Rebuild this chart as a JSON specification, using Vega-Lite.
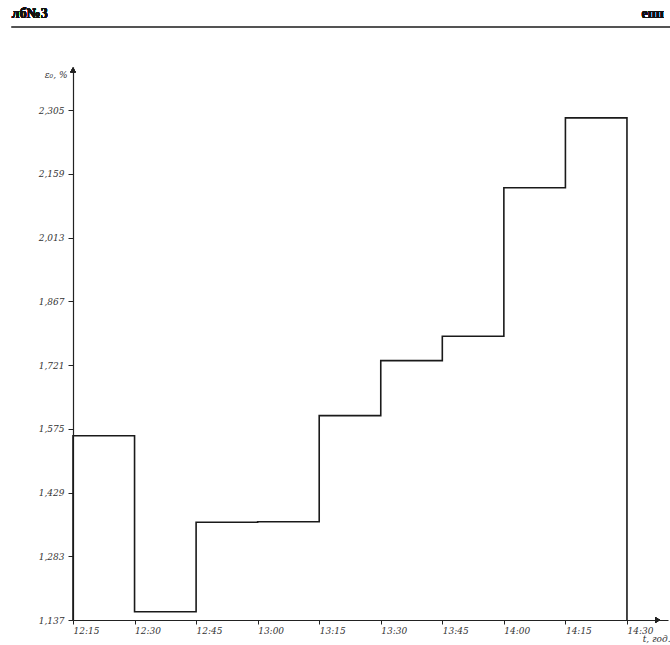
{
  "$schema": "https://vega.github.io/schema/vega-lite/v6.json",
  "width": 595,
  "height": 553,
  "autosize": {"type": "none"},
  "padding": {"left": 73, "top": 67, "right": 2, "bottom": 25},
  "background": "white",
  "config": {
    "view": {"stroke": null},
    "axis": {
      "grid": false,
      "domainColor": "#222",
      "domainWidth": 1.2,
      "tickColor": "#222",
      "labelFont": "DejaVu Serif",
      "labelFontStyle": "italic",
      "labelFontSize": 9,
      "labelColor": "#333",
      "titleFont": "DejaVu Serif",
      "titleFontStyle": "italic",
      "titleFontWeight": "normal",
      "titleFontSize": 9,
      "titleColor": "#333"
    }
  },
  "data": {
    "values": [
      {"t": "12:15", "min": 735, "v": 1.137, "n": 0},
      {"t": "12:15", "min": 735, "v": 1.559, "n": 1},
      {"t": "12:30", "min": 750, "v": 1.156, "n": 2},
      {"t": "12:45", "min": 765, "v": 1.361, "n": 3},
      {"t": "13:00", "min": 780, "v": 1.362, "n": 4},
      {"t": "13:15", "min": 795, "v": 1.605, "n": 5},
      {"t": "13:30", "min": 810, "v": 1.731, "n": 6},
      {"t": "13:45", "min": 825, "v": 1.787, "n": 7},
      {"t": "14:00", "min": 840, "v": 2.127, "n": 8},
      {"t": "14:15", "min": 855, "v": 2.287, "n": 9},
      {"t": "14:30", "min": 870, "v": 2.287, "n": 10},
      {"t": "14:30", "min": 870, "v": 1.137, "n": 11}
    ]
  },
  "layer": [
    {
      "mark": {"type": "line", "interpolate": "step-after", "color": "#1a1a1a", "strokeWidth": 1.6},
      "encoding": {
        "x": {
          "field": "min",
          "type": "quantitative",
          "scale": {"domain": [735, 880], "nice": false, "zero": false},
          "axis": {
            "values": [735, 750, 765, 780, 795, 810, 825, 840, 855, 870],
            "labelExpr": "floor(datum.value/60) + ':' + (datum.value % 60 == 0 ? '00' : '' + (datum.value % 60))",
            "labelAlign": "left",
            "labelDx": -3,
            "labelBaseline": "top",
            "tickSize": 4,
            "labelPadding": 2,
            "title": "t, год.",
            "titleX": 597,
            "titleY": 18,
            "titleAlign": "right",
            "titleBaseline": "middle"
          }
        },
        "y": {
          "field": "v",
          "type": "quantitative",
          "scale": {"domain": [1.137, 2.4035], "nice": false, "zero": false},
          "axis": {
            "values": [1.137, 1.283, 1.429, 1.575, 1.721, 1.867, 2.013, 2.159, 2.305],
            "labelExpr": "replace(format(datum.value, '.3f'), '.', ',')",
            "tickSize": 5,
            "labelPadding": 4,
            "title": "ε₀, %",
            "titleAngle": 0,
            "titleX": -6,
            "titleY": 7,
            "titleAlign": "right",
            "titleBaseline": "middle"
          }
        },
        "order": {"field": "n"}
      }
    },
    {
      "mark": {"type": "point", "shape": "triangle-up", "filled": true, "color": "#222", "size": 28, "clip": false, "opacity": 1},
      "encoding": {"x": {"datum": 735}, "y": {"datum": 2.397}}
    },
    {
      "mark": {"type": "point", "shape": "triangle-right", "filled": true, "color": "#222", "size": 28, "clip": false, "opacity": 1},
      "encoding": {"x": {"datum": 877.5}, "y": {"datum": 1.137}}
    },
    {
      "mark": {"type": "rule", "color": "#555", "strokeWidth": 1.5, "clip": false},
      "encoding": {"x": {"datum": 720.1}, "x2": {"datum": 880.5}, "y": {"datum": 2.495}}
    },
    {
      "mark": {"type": "text", "text": "лб№3", "font": "Liberation Serif", "fontWeight": "bold", "fontSize": 14, "align": "left", "baseline": "middle", "color": "#111", "clip": false},
      "encoding": {"x": {"datum": 720.1}, "y": {"datum": 2.526}}
    },
    {
      "mark": {"type": "text", "text": "епп", "font": "Liberation Serif", "fontWeight": "bold", "fontSize": 14, "align": "right", "baseline": "middle", "color": "#111", "clip": false},
      "encoding": {"x": {"datum": 879.0}, "y": {"datum": 2.526}}
    }
  ]
}
